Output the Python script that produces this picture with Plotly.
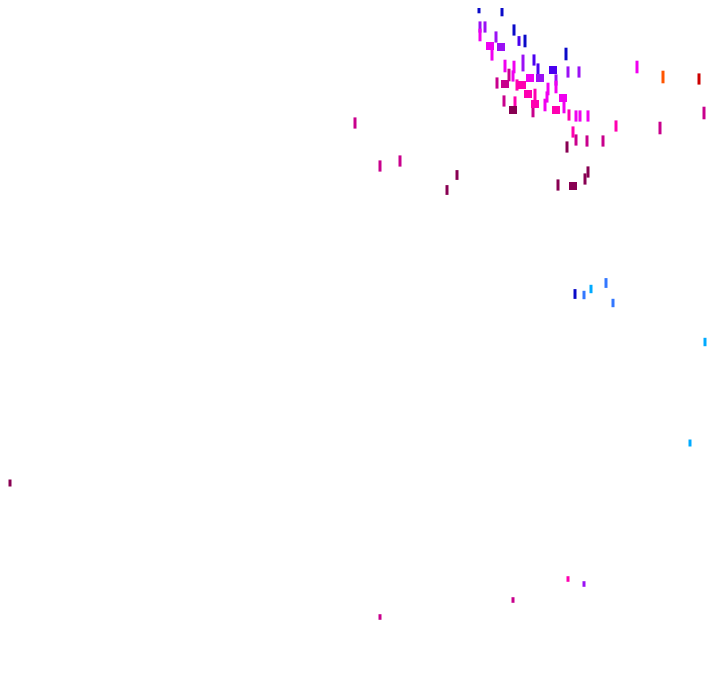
import plotly.graph_objects as go

# point data (arbitrary units, no axes shown in the reference)
xs = [479, 502, 480, 485, 480, 514, 496, 519, 525, 490, 501, 492, 566, 523, 534,
      505, 514, 538, 553, 568, 579, 509, 513, 530, 540, 497, 505, 517, 522, 556,
      548, 556, 528, 535, 563, 547, 504, 515, 535, 545, 513, 533, 556, 564, 569,
      576, 580, 588, 573, 616, 576, 587, 603, 660, 704, 567, 588, 585, 558, 573,
      355, 380, 400, 457, 447, 575, 584, 591, 606, 613, 705, 10, 380, 513, 568,
      584, 637, 663, 699, 690]
ys = [7, 10, 27, 27, 35, 30, 37, 41, 41, 46, 47, 55, 54, 63, 60,
      66, 67, 69, 70, 72, 72, 75, 76, 78, 78, 83, 84, 85, 85, 80,
      89, 87, 94, 95, 98, 97, 101, 102, 104, 105, 110, 111, 110, 107, 115,
      116, 116, 116, 132, 126, 140, 141, 141, 128, 113, 147, 172, 179, 185, 186,
      123, 166, 161, 175, 190, 294, 295, 289, 283, 303, 342, 483, 617, 600, 579,
      584, 67, 77, 79, 443]
groups = ["navy", "navy", "violet", "violet", "magenta", "navy", "violet", "indigo", "navy", "magenta",
          "violet", "magenta", "navy", "violet", "indigo", "magenta", "magenta", "indigo", "indigo", "violet",
          "violet", "rose", "magenta", "magenta", "violet", "rose", "rose", "pink", "pink", "violet",
          "magenta", "magenta", "pink", "pink", "magenta", "magenta", "rose", "pink", "pink", "magenta",
          "plum", "rose", "pink", "magenta", "pink", "magenta", "magenta", "magenta", "pink", "pink",
          "rose", "rose", "rose", "rose", "rose", "plum", "plum", "plum", "plum", "plum",
          "rose", "rose", "rose", "plum", "plum", "navy", "azure", "sky", "azure", "azure",
          "sky", "plum", "rose", "rose", "pink", "violet", "magenta", "orange", "red", "sky"]
weights = [9, 9, 8, 8, 9, 8, 8, 7, 9, 0, 0, 8, 9, 12, 8,
           9, 9, 8, 0, 8, 8, 9, 8, 0, 0, 8, 0, 8, 0, 8,
           9, 9, 0, 9, 0, 8, 8, 8, 0, 9, 0, 9, 0, 9, 8,
           8, 8, 8, 8, 8, 8, 8, 8, 9, 9, 8, 8, 8, 8, 0,
           8, 8, 8, 7, 7, 7, 6, 6, 7, 6, 6, 5, 4, 4, 4,
           4, 9, 9, 8, 5]

palette = {
    "navy": "#0a0ac8", "indigo": "#4a00f0", "violet": "#9a10f5", "magenta": "#f000f0",
    "pink": "#ff00b0", "rose": "#c8008c", "plum": "#880052", "red": "#cc0000",
    "orange": "#ff5500", "sky": "#00aaff", "azure": "#3377ff",
}

line_idx = [i for i, w in enumerate(weights) if w > 0]
block_idx = [i for i, w in enumerate(weights) if w == 0]

fig = go.Figure()
fig.add_trace(go.Scatter(
    x=[xs[i] for i in line_idx], y=[ys[i] for i in line_idx], mode="markers",
    marker=dict(symbol="line-ns", size=[weights[i] for i in line_idx], opacity=1,
                line=dict(width=3, color=[palette[groups[i]] for i in line_idx])),
    hoverinfo="skip", showlegend=False))
fig.add_trace(go.Scatter(
    x=[xs[i] for i in block_idx], y=[ys[i] for i in block_idx], mode="markers",
    marker=dict(symbol="square", size=8, opacity=1,
                color=[palette[groups[i]] for i in block_idx], line=dict(width=0)),
    hoverinfo="skip", showlegend=False))

fig.update_layout(
    width=720, height=692, margin=dict(l=0, r=0, t=0, b=0),
    paper_bgcolor="white", plot_bgcolor="white",
    xaxis=dict(range=[8, 728], visible=False, fixedrange=True),
    yaxis=dict(range=[700, 8], visible=False, fixedrange=True),
)
fig.write_html("out.html")
